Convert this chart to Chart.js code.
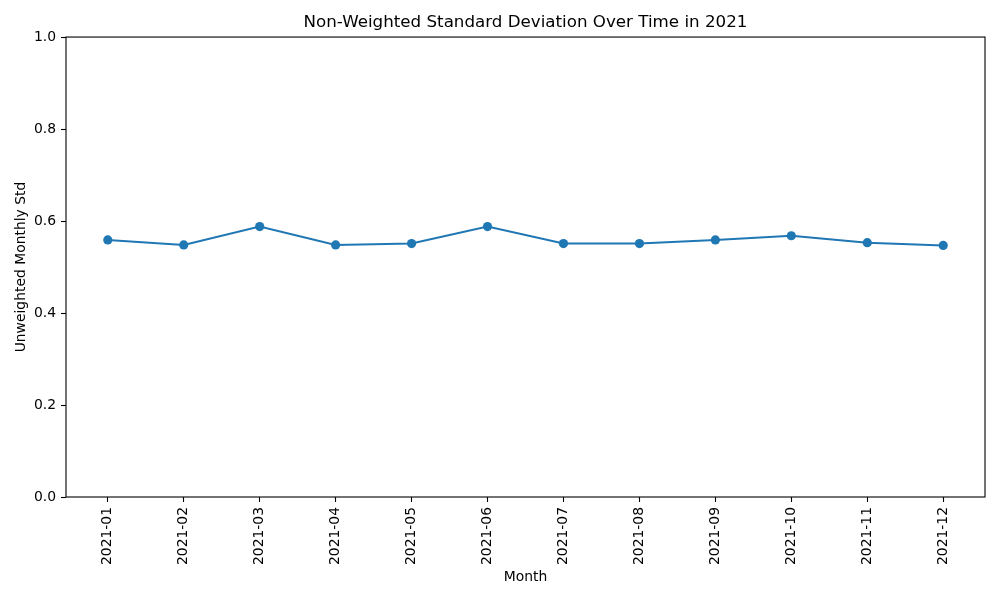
<!DOCTYPE html>
<html lang="en">
<head>
    <meta charset="UTF-8">
    <title>Non-Weighted Standard Deviation Over Time in 2021</title>
    <script src="https://cdn.jsdelivr.net/npm/chart.js@4/dist/chart.umd.min.js"></script>
    <style>
        body {
            margin: 0;
            background-color: #ffffff;
        }
        #stdChart {
            display: block;
        }
    </style>
</head>
<body>
    <canvas id="stdChart" width="1000" height="600"></canvas>

    <script>
        const months = ['2021-01', '2021-02', '2021-03', '2021-04', '2021-05', '2021-06',
                        '2021-07', '2021-08', '2021-09', '2021-10', '2021-11', '2021-12'];
        const monthlyStd = [0.559, 0.548, 0.588, 0.548, 0.551, 0.588,
                            0.551, 0.551, 0.559, 0.568, 0.553, 0.547];
        const yTicks = [0.0, 0.2, 0.4, 0.6, 0.8, 1.0];

        const FONT = 'DejaVu Sans';

        // matplotlib-like frame around the plot area
        const frameBox = {
            id: 'frameBox',
            afterDraw(chart) {
                const a = chart.chartArea;
                const ctx = chart.ctx;
                ctx.save();
                ctx.strokeStyle = '#000000';
                ctx.lineWidth = 1.1;
                ctx.strokeRect(a.left, a.top, a.right - a.left, a.bottom - a.top);
                ctx.restore();
            }
        };

        const ctx = document.getElementById('stdChart').getContext('2d');
        new Chart(ctx, {
            type: 'line',
            data: {
                datasets: [{
                    label: 'Unweighted Monthly Std',
                    data: monthlyStd.map((v, i) => ({ x: i, y: v })),
                    borderColor: '#1f77b4',
                    backgroundColor: '#1f77b4',
                    borderWidth: 2,
                    pointRadius: 4.6,
                    pointBorderWidth: 0,
                    pointBackgroundColor: '#1f77b4',
                    tension: 0
                }]
            },
            options: {
                responsive: false,
                animation: false,
                devicePixelRatio: 1,
                layout: {
                    padding: { left: 0, right: 15, top: 0, bottom: 0 }
                },
                plugins: {
                    legend: { display: false },
                    tooltip: { enabled: false },
                    title: {
                        display: true,
                        fullSize: false,
                        text: 'Non-Weighted Standard Deviation Over Time in 2021',
                        color: '#000000',
                        font: { family: FONT, size: 16.7, weight: 'normal' },
                        padding: { top: 12.7, bottom: 4.3 }
                    }
                },
                scales: {
                    x: {
                        type: 'linear',
                        min: -0.55,
                        max: months.length - 1 + 0.55,
                        afterBuildTicks: scale => {
                            scale.ticks = months.map((m, i) => ({ value: i }));
                        },
                        afterFit: scale => { scale.height = 103; },
                        ticks: {
                            autoSkip: false,
                            minRotation: 90,
                            maxRotation: 90,
                            padding: 5,
                            color: '#000000',
                            font: { family: FONT, size: 13.9 },
                            callback: value => months[value]
                        },
                        grid: {
                            drawOnChartArea: false,
                            drawTicks: true,
                            tickLength: 5,
                            tickColor: '#000000',
                            tickWidth: 1.1
                        },
                        border: { display: false },
                        title: {
                            display: true,
                            text: 'Month',
                            color: '#000000',
                            font: { family: FONT, size: 13.9 },
                            padding: { top: 0, bottom: 14.7 }
                        }
                    },
                    y: {
                        min: 0,
                        max: 1,
                        afterBuildTicks: scale => {
                            scale.ticks = yTicks.map(v => ({ value: v }));
                        },
                        afterFit: scale => { scale.width = 66; },
                        ticks: {
                            padding: 5,
                            color: '#000000',
                            font: { family: FONT, size: 13.9 },
                            callback: value => value.toFixed(1)
                        },
                        grid: {
                            drawOnChartArea: false,
                            drawTicks: true,
                            tickLength: 5,
                            tickColor: '#000000',
                            tickWidth: 1.1
                        },
                        border: { display: false },
                        title: {
                            display: true,
                            text: 'Unweighted Monthly Std',
                            color: '#000000',
                            font: { family: FONT, size: 13.9 },
                            padding: { top: 13.5, bottom: 0 }
                        }
                    }
                }
            },
            plugins: [frameBox]
        });
    </script>
</body>
</html>
